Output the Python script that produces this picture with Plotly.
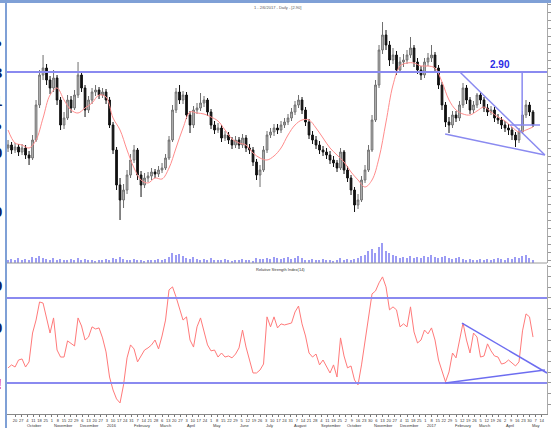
import datetime as dt
import plotly.graph_objects as go

# ---------------- data ----------------
START_DATE = dt.date(2015, 9, 12)
DAYS_PER_BAR = 4

open_ = [15.2, 15.5, 15.0, 15.3, 14.8, 15.2, 14.5, 14.2, 16.0, 19.5,
         22.5, 23.2, 22.0, 21.2, 22.2, 20.0, 17.5, 18.2, 20.0, 19.2,
         20.5, 22.5, 21.2, 19.0, 20.0, 20.8, 21.0, 20.5, 20.8, 20.0,
         17.5, 15.0, 11.5, 10.0, 11.0, 12.5, 14.0, 15.0, 12.5, 11.5,
         12.2, 12.4, 12.8, 12.6, 13.0, 13.2, 14.2, 16.0, 19.0, 20.8,
         20.0, 20.5, 18.5, 17.5, 19.0, 19.2, 19.7, 20.0, 18.8, 17.5,
         17.0, 17.2, 16.2, 16.5, 16.0, 15.5, 16.0, 15.5, 16.2, 15.2,
         15.0, 13.8, 12.5, 13.0, 15.0, 16.5, 16.8, 17.2, 17.0, 17.5,
         17.8, 18.2, 18.8, 19.5, 20.0, 19.0, 17.8, 16.5, 16.0, 15.5,
         15.0, 14.8, 14.5, 14.0, 13.7, 13.2, 14.8, 13.0, 12.2, 11.0,
         9.5, 10.0, 12.0, 13.0, 15.0, 18.0, 21.5, 25.0, 26.5, 25.5,
         24.0, 24.5, 23.0, 23.8, 24.0, 24.5, 25.2, 23.8, 23.0, 22.5,
         23.8, 24.2, 24.5, 23.2, 21.5, 19.5, 17.8, 17.5, 18.5, 18.2,
         19.5, 21.2, 20.0, 19.0, 19.5, 20.5, 20.0, 19.2, 18.8, 19.0,
         18.2, 18.0, 17.5, 17.2, 17.0, 16.5, 16.0, 16.8, 18.5, 19.5,
         18.8]
high = [16.0, 15.8, 15.7, 15.6, 15.6, 15.5, 14.9, 16.5, 20.0, 23.0,
        24.5, 23.6, 22.4, 23.0, 22.5, 20.3, 18.8, 20.5, 20.4, 21.0,
        23.8, 22.8, 21.5, 20.4, 21.2, 21.5, 21.3, 21.2, 21.1, 20.3,
        17.8, 15.3, 12.2, 11.6, 13.0, 14.6, 15.5, 15.2, 12.9, 12.7,
        12.8, 13.2, 13.1, 13.4, 13.7, 14.6, 16.4, 19.5, 21.2, 21.5,
        20.9, 20.8, 18.9, 19.4, 19.7, 20.7, 20.4, 20.2, 19.1, 17.9,
        17.7, 17.5, 16.9, 16.8, 16.3, 16.4, 16.3, 16.6, 16.5, 15.6,
        15.3, 14.1, 13.5, 15.4, 16.9, 17.2, 17.6, 17.6, 17.9, 18.2,
        18.6, 19.2, 19.9, 20.5, 20.3, 19.3, 18.1, 16.9, 16.4, 15.9,
        15.4, 15.2, 14.9, 14.4, 14.0, 15.2, 15.0, 13.4, 12.5, 11.3,
        10.6, 12.4, 13.5, 15.5, 18.5, 22.0, 25.5, 27.8, 27.0, 25.9,
        25.2, 24.9, 24.3, 24.6, 25.0, 26.3, 25.5, 24.2, 23.4, 24.2,
        24.7, 25.5, 24.8, 23.5, 21.8, 19.8, 18.3, 18.9, 18.9, 19.9,
        21.7, 21.5, 20.3, 19.9, 20.7, 20.8, 20.3, 19.6, 19.4, 19.3,
        18.6, 18.3, 17.9, 17.6, 17.3, 16.8, 17.2, 18.9, 20.0, 19.8,
        19.0]
low = [14.8, 14.6, 14.7, 14.4, 14.5, 14.1, 13.5, 14.0, 15.8, 19.2,
       22.0, 21.5, 20.6, 20.8, 19.5, 17.0, 17.1, 18.0, 18.7, 19.0,
       20.2, 20.8, 18.3, 18.7, 19.6, 20.4, 20.1, 20.2, 19.6, 17.2,
       14.6, 11.0, 8.0, 9.2, 10.6, 12.2, 13.7, 12.0, 10.3, 11.2,
       11.8, 12.0, 12.2, 12.3, 12.7, 13.0, 14.0, 15.8, 18.7, 19.6,
       19.6, 18.1, 16.7, 17.2, 18.6, 18.9, 19.3, 18.4, 17.1, 16.6,
       16.7, 15.8, 15.9, 15.6, 15.1, 15.2, 15.1, 15.2, 14.8, 14.6,
       13.4, 12.0, 11.3, 12.8, 14.7, 16.2, 16.4, 16.6, 16.7, 17.2,
       17.5, 17.9, 18.5, 19.2, 18.6, 17.4, 16.1, 15.6, 15.1, 14.6,
       14.4, 14.1, 13.6, 13.3, 12.8, 13.0, 12.6, 11.8, 10.5, 8.8,
       9.1, 9.8, 11.7, 12.8, 14.8, 17.8, 21.2, 24.6, 25.0, 23.4,
       23.6, 22.5, 22.7, 23.3, 23.6, 24.2, 23.3, 22.6, 22.0, 22.2,
       23.4, 23.8, 22.8, 21.1, 19.0, 17.3, 16.7, 17.2, 17.8, 17.9,
       19.2, 19.6, 18.6, 18.7, 19.2, 19.6, 18.8, 18.4, 18.5, 17.8,
       17.6, 17.1, 16.8, 16.5, 16.0, 15.3, 15.7, 16.6, 18.2, 18.4,
       17.3]
close = [15.5, 15.0, 15.3, 14.8, 15.2, 14.5, 14.2, 16.0, 19.5, 22.5,
         23.2, 22.0, 21.2, 22.2, 20.0, 17.5, 18.2, 20.0, 19.2, 20.5,
         22.5, 21.2, 19.0, 20.0, 20.8, 21.0, 20.5, 20.8, 20.0, 17.5,
         15.0, 11.5, 10.0, 11.0, 12.5, 14.0, 15.0, 12.5, 11.5, 12.2,
         12.4, 12.8, 12.6, 13.0, 13.2, 14.2, 16.0, 19.0, 20.8, 20.0,
         20.5, 18.5, 17.5, 19.0, 19.2, 19.7, 20.0, 18.8, 17.5, 17.0,
         17.2, 16.2, 16.5, 16.0, 15.5, 16.0, 15.5, 16.2, 15.2, 15.0,
         13.8, 12.5, 13.0, 15.0, 16.5, 16.8, 17.2, 17.0, 17.5, 17.8,
         18.2, 18.8, 19.5, 20.0, 19.0, 17.8, 16.5, 16.0, 15.5, 15.0,
         14.8, 14.5, 14.0, 13.7, 13.2, 14.8, 13.0, 12.2, 11.0, 9.5,
         10.0, 12.0, 13.0, 15.0, 18.0, 21.5, 25.0, 26.5, 25.5, 24.0,
         24.5, 23.0, 23.8, 24.0, 24.5, 25.2, 23.8, 23.0, 22.5, 23.8,
         24.2, 24.5, 23.2, 21.5, 19.5, 17.8, 17.5, 18.5, 18.2, 19.5,
         21.2, 20.0, 19.0, 19.5, 20.5, 20.0, 19.2, 18.8, 19.0, 18.2,
         18.0, 17.5, 17.2, 17.0, 16.5, 16.0, 16.8, 18.5, 19.5, 18.8,
         17.5]
volume = [0.3, 0.4, 0.3, 0.5, 0.3, 0.4, 0.3, 0.6, 0.5, 0.7,
          0.5, 0.4, 0.3, 0.5, 0.3, 0.4, 0.3, 0.3, 0.4, 0.3,
          0.5, 0.3, 0.4, 0.3, 0.3, 0.2, 0.3, 0.3, 0.4, 0.3,
          0.5, 0.4, 0.6, 0.4, 0.3, 0.3, 0.4, 0.3, 0.3, 0.2,
          0.3, 0.3, 0.3, 0.4, 0.3, 0.4, 0.6, 1.0, 0.8, 0.9,
          0.7, 0.5, 0.4, 0.6, 0.4, 0.3, 0.4, 0.3, 0.5, 0.3,
          0.3, 0.3, 0.4, 0.3, 0.2, 0.3, 0.3, 0.4, 0.3, 0.3,
          0.2, 0.5, 0.4, 0.4, 0.5, 0.4, 0.6, 0.5, 0.4, 0.5,
          0.6, 0.4, 0.5, 0.7, 0.5, 0.3, 0.3, 0.4, 0.3, 0.3,
          0.4, 0.3, 0.3, 0.2, 0.3, 0.5, 0.3, 0.4, 0.3, 0.4,
          0.5, 0.7, 0.8, 1.2, 1.4, 1.0, 1.6, 2.0, 1.2, 1.0,
          0.8, 0.7, 0.5, 0.6, 0.5, 0.7, 0.5, 0.6, 0.5, 0.7,
          0.6, 0.8, 0.6, 0.5, 0.6, 0.7, 0.5, 0.4, 0.5, 0.6,
          0.4, 0.3, 0.4, 0.3, 0.3, 0.4, 0.3, 0.4, 0.3, 0.4,
          0.5, 0.4, 0.3, 0.5, 0.4, 0.6, 0.5, 0.7, 0.8, 0.5,
          0.3]
ma_bar = list(range(0, 151, 2))
ma = [17.0, 15.7, 15.5, 15.2, 16.0, 18.2, 20.5, 21.2, 20.0, 19.0,
      18.7, 19.2, 19.7, 20.5, 20.3, 18.2, 17.0, 15.0, 13.2, 12.0,
      11.7, 12.2, 12.1, 13.2, 15.2, 17.2, 18.8, 18.7, 18.6, 18.3,
      17.9, 17.0, 16.1, 15.7, 15.5, 14.7, 14.2, 14.0, 14.4, 15.2,
      16.5, 17.5, 18.0, 18.0, 17.2, 16.2, 15.2, 14.5, 13.8, 12.8,
      12.0, 11.3, 12.0, 14.2, 17.8, 21.5, 23.4, 23.7, 23.7, 23.4,
      23.4, 23.2, 21.8, 20.0, 19.0, 18.6, 18.5, 18.9, 19.3, 18.8,
      18.3, 17.9, 17.3, 16.8, 17.0, 17.3]
rsi = [37.1, 38.5, 37.5, 40.8, 41.3, 37.5, 39.9, 53.5, 59.6, 68.1,
       67.6, 60.6, 53.5, 60.6, 45.5, 42.2, 42.2, 49.8, 48.4, 47.4,
       60.6, 56.8, 50.2, 51.6, 56.4, 55.4, 55.9, 51.2, 44.6, 32.8,
       26.7, 22.5, 20.6, 29.1, 41.8, 47.9, 46.0, 39.9, 42.7, 45.5,
       46.5, 47.9, 50.2, 46.0, 52.1, 59.6, 73.8, 75.2, 70.5, 64.8,
       59.6, 61.1, 50.2, 46.9, 56.4, 60.6, 54.5, 47.9, 45.1, 45.5,
       42.2, 44.1, 42.2, 42.7, 41.8, 43.6, 46.5, 54.9, 46.9, 41.3,
       34.7, 34.7, 36.1, 38.9, 61.1, 56.4, 61.1, 55.9, 57.8, 57.3,
       57.8, 58.2, 63.4, 66.2, 57.8, 52.1, 44.1, 42.2, 43.6, 38.5,
       40.8, 38.0, 34.7, 38.5, 32.8, 51.2, 42.7, 37.1, 38.0, 31.4,
       29.1, 38.5, 49.3, 61.1, 71.9, 73.3, 77.1, 79.9, 75.2, 64.4,
       65.8, 64.4, 56.4, 57.8, 56.4, 65.8, 54.0, 48.8, 50.2, 54.9,
       53.1, 55.9, 50.2, 40.8, 35.6, 30.5, 35.2, 44.1, 41.8, 50.2,
       58.2, 50.2, 44.1, 53.5, 51.6, 42.2, 42.7, 48.4, 45.1, 42.7,
       42.2, 38.9, 39.4, 40.8, 39.4, 38.0, 39.9, 54.5, 62.5, 61.1,
       51.6]

RESISTANCE = 22.8          # horizontal line on price
RSI_LEVELS = [70, 30]
TARGET_TEXT = "2.90"
# drawn lines in (bar, value) units
price_lines = [((129.1, 22.8), (153.4, 14.5)),
               ((124.9, 16.6), (153.4, 14.5)),
               ((146.9, 22.8), (146.9, 17.5)),
               ((143.4, 17.5), (152.0, 17.5))]
rsi_lines = [((124.9, 30.0), (153.4, 36.1)),
             ((129.7, 58.2), (154.0, 34.7))]

bars = list(range(len(close)))

# ---------------- figure ----------------
W, H = 551, 428
ML, MR, MT, MB = 7, 4, 3, 14
plot_w = W - ML - MR
plot_h = H - MT - MB
UP_DOM = [(414 - 263) / plot_h, 1.0]
LO_DOM = [0.0, (414 - 265) / plot_h]

BLUE = "#8a8af0"
fig = go.Figure()
fig.add_trace(go.Bar(x=bars, y=volume, yaxis="y2", marker=dict(color="#9c9cf4", line_width=0),
                     width=0.35, showlegend=False, hoverinfo="skip"))
fig.add_trace(go.Candlestick(
    x=bars, open=open_, high=high, low=low, close=close, yaxis="y",
    increasing=dict(line=dict(color="#6e6e6e", width=1), fillcolor="#c4c4c4"),
    decreasing=dict(line=dict(color="#111111", width=1), fillcolor="#111111"),
    whiskerwidth=0, showlegend=False))
fig.add_trace(go.Scatter(x=ma_bar, y=ma, mode="lines", yaxis="y",
                         line=dict(color="#ff8c8c", width=1, shape="spline"), showlegend=False))
fig.add_trace(go.Scatter(x=bars, y=rsi, mode="lines", yaxis="y3",
                         line=dict(color="#ff7a7a", width=1), showlegend=False))

shapes = []
shapes.append(dict(type="line", xref="paper", yref="y", x0=0, x1=1, y0=RESISTANCE, y1=RESISTANCE,
                   line=dict(color=BLUE, width=2)))
for (a, b) in price_lines:
    shapes.append(dict(type="line", xref="x", yref="y", x0=a[0], y0=a[1], x1=b[0], y1=b[1],
                       line=dict(color=BLUE, width=1.5)))
for lv in RSI_LEVELS:
    shapes.append(dict(type="line", xref="paper", yref="y3", x0=0, x1=1, y0=lv, y1=lv,
                       line=dict(color=BLUE, width=2)))
for (a, b) in rsi_lines:
    shapes.append(dict(type="line", xref="x", yref="y3", x0=a[0], y0=a[1], x1=b[0], y1=b[1],
                       line=dict(color="#6d6df0", width=1.5)))
# panel separator
shapes.append(dict(type="line", xref="paper", yref="paper", x0=0, x1=1, y0=UP_DOM[0], y1=UP_DOM[0],
                   line=dict(color="#9a9a9a", width=1)))
# frame: top and left
shapes.append(dict(type="line", xref="paper", yref="paper", x0=-0.02, x1=1.01,
                   y0=1 + 1.5 / plot_h, y1=1 + 1.5 / plot_h, line=dict(color="#7fa0d6", width=3)))
shapes.append(dict(type="line", xref="paper", yref="paper", x0=-1 / plot_w, x1=-1 / plot_w,
                   y0=-0.04, y1=1.005, line=dict(color="#7fa0d6", width=2)))

annotations = []
annotations.append(dict(x=140.6, y=23.6, xref="x", yref="y", text="<b>" + TARGET_TEXT + "</b>",
                        showarrow=False, font=dict(size=10, color="#2b2be6", family="Liberation Sans Narrow, Arial Narrow, Arial")))
annotations.append(dict(x=(254 - ML) / plot_w, y=LO_DOM[1], xref="paper", yref="paper",
                        text="Relative Strength Index(14)", showarrow=False, xanchor="left", yanchor="top",
                        font=dict(size=4, color="#333")))
annotations.append(dict(x=0.5, y=1, xref="paper", yref="paper", text="1 - 2/6/2017 - Daily - [2.90]",
                        showarrow=False, xanchor="center", yanchor="top", font=dict(size=4, color="#555")))

# date ticks (weekly) and months
tickvals, ticktext = [], []
n_days = (len(close) + 4) * DAYS_PER_BAR
for d in range(0, n_days):
    day = START_DATE + dt.timedelta(days=d)
    pos = d / DAYS_PER_BAR
    if day.weekday() == 6 and 0.5 <= pos <= 152.5:
        tickvals.append(pos)
        ticktext.append(str(day.day))
    if day.day == 1 and pos <= 150:
        label = str(day.year) if day.month == 1 else day.strftime("%B")
        annotations.append(dict(x=pos, y=-11.5 / plot_h, xref="x", yref="paper", text=label, showarrow=False,
                                xanchor="left", yanchor="middle", font=dict(size=4, color="#333")))

# cropped glyphs at the left edge
for (py, col, ch) in [(40, "#0d1f66", "ة"), (72, "#0d1f66", "3"), (100, "#0d1f66", "1"),
                      (124, "#0d1f66", "ة"), (152, "#0d1f66", "0"), (212, "#0d1f66", "0"),
                      (285, "#0d1f66", "9"), (327, "#0d1f66", "0"), (383, "#e00000", "!")]:
    annotations.append(dict(x=-3 / plot_w, y=(414 - py) / plot_h, xref="paper", yref="paper",
                            text="<b>" + ch + "</b>", showarrow=False, xanchor="right", yanchor="middle",
                            font=dict(size=15, color=col)))

fig.update_layout(
    width=W, height=H, margin=dict(l=ML, r=MR, t=MT, b=MB, autoexpand=False),
    paper_bgcolor="white", plot_bgcolor="white",
    font=dict(family="Liberation Sans, Arial", size=5, color="#333"),
    bargap=0,
    xaxis=dict(range=[-0.3, 154], anchor="y3", showgrid=False, zeroline=False, automargin=False,
               rangeslider=dict(visible=False), showline=True, linecolor="#888", linewidth=1,
               ticks="outside", ticklen=2, tickcolor="#777", tickwidth=1,
               tickvals=tickvals, ticktext=ticktext,
               tickfont=dict(size=4, color="#333", family="Liberation Sans Narrow, Arial Narrow, Arial"),
               tickangle=0),
    yaxis=dict(domain=UP_DOM, range=[3.7, 29.7], side="right", showgrid=False, zeroline=False,
               automargin=False, showline=True, linecolor="#aaa", ticks="outside", ticklen=3,
               tickcolor="#999", dtick=0.8, tick0=0, showticklabels=False),
    yaxis2=dict(domain=UP_DOM, range=[0, 26], overlaying="y", visible=False, automargin=False),
    yaxis3=dict(domain=LO_DOM, range=[15.4, 85.5], side="right", showgrid=False, zeroline=False,
                automargin=False, showline=True, linecolor="#aaa", ticks="outside", ticklen=3,
                tickcolor="#999", dtick=5, tick0=0, showticklabels=False),
    shapes=shapes, annotations=annotations,
)

fig.write_html("out.html", config={"displayModeBar": False},
               post_script="document.body.style.margin='0';document.body.style.overflow='hidden';")
